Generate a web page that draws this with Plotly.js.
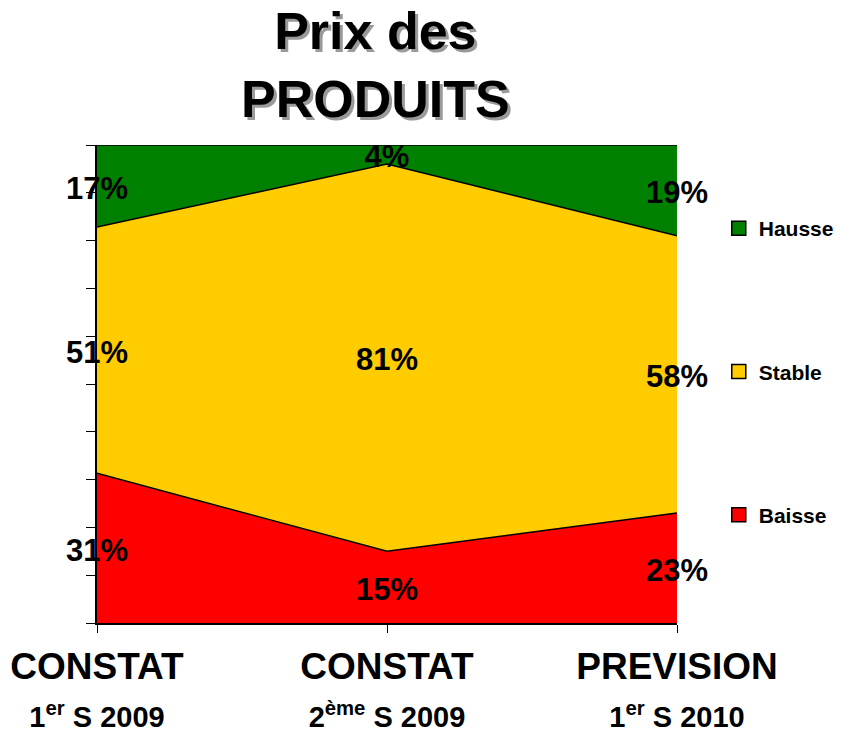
<!DOCTYPE html>
<html>
<head>
<meta charset="utf-8">
<script src="https://cdn.plot.ly/plotly-3.0.1.min.js"></script>
<style>
  body { margin: 0; background: #fff; }
  #chart { width: 841px; height: 729px; }
</style>
</head>
<body>
<div id="chart"></div>
<script>
// --- Data ---
const catLine1 = ['CONSTAT', 'CONSTAT', 'PREVISION'];
const catLine2 = ['1<sup>er</sup> S 2009', '2<sup>ème</sup> S 2009', '1<sup>er</sup> S 2010'];
const seriesNames = ['Baisse', 'Stable', 'Hausse'];
const baisse = [31, 15, 23];
const stable = [51, 81, 58];
const hausse = [17, 4, 19];
const seriesColors = ['#FF0000', '#FFCC00', '#008000'];

const xs = [0, 1, 2];
const values = [baisse, stable, hausse];
const font = 'Liberation Sans, Arial, sans-serif';

// stacked areas, normalised to 100%
const traces = values.map((vals, i) => ({
    x: xs,
    y: vals,
    type: 'scatter',
    mode: 'lines',
    stackgroup: 'one',
    groupnorm: 'percent',
    name: seriesNames[i],
    line: { color: '#000', width: 1.5 },
    fillcolor: seriesColors[i],
    showlegend: false,
    hoverinfo: 'skip'
}));

// data labels in the middle of every band
const totals = xs.map((_, j) => values.reduce((s, v) => s + v[j], 0));
values.forEach(vals => {
    traces.push({
        x: xs,
        y: xs.map((_, j) => {
            let below = 0;
            for (const v of values) { if (v === vals) break; below += v[j]; }
            return (below + vals[j] / 2) / totals[j] * 100 - 1;
        }),
        text: vals.map(v => v + '%'),
        type: 'scatter',
        mode: 'text',
        textfont: { family: font, size: 31, weight: 'bold', color: '#000' },
        cliponaxis: false,
        showlegend: false,
        hoverinfo: 'skip'
    });
});

// legend entries as square swatches, Hausse on top
[2, 1, 0].forEach(i => {
    traces.push({
        x: [null],
        y: [null],
        type: 'scatter',
        mode: 'markers',
        name: seriesNames[i],
        legendgroup: seriesNames[i],
        marker: { symbol: 'square', size: 14, color: seriesColors[i], line: { color: '#000', width: 1.5 } }
    });
});

const layout = {
    width: 841,
    height: 729,
    margin: { l: 97, r: 164, t: 145, b: 106, autoexpand: false },
    paper_bgcolor: '#fff',
    plot_bgcolor: '#fff',
    showlegend: true,
    legend: {
        x: 1.072, y: 0.868, xanchor: 'left', yanchor: 'top',
        traceorder: 'grouped',
        tracegroupgap: 113,
        itemwidth: 30,
        font: { family: font, size: 21, weight: 'bold', color: '#000' }
    },
    xaxis: {
        range: [0, 2],
        tickvals: xs,
        ticktext: xs.map(j => catLine1[j] + '<br><span style="font-size:29px">' + catLine2[j] + '</span>'),
        ticks: 'outside', ticklen: 8, tickcolor: '#000', tickwidth: 1,
        ticklabelstandoff: 2,
        showline: true, linecolor: '#000', linewidth: 1.5,
        showgrid: false, zeroline: false,
        tickfont: { family: font, size: 37, weight: 'bold', color: '#000' }
    },
    yaxis: {
        range: [0, 100],
        dtick: 10,
        ticks: 'outside', ticklen: 9, tickcolor: '#000', tickwidth: 1,
        showticklabels: false,
        showline: true, linecolor: '#000', linewidth: 1.5,
        showgrid: false, zeroline: false
    },
    annotations: [
        {
            text: 'Prix des<br>PRODUITS', xref: 'paper', yref: 'paper',
            x: 0.48, y: 1.167, xanchor: 'center', yanchor: 'middle', showarrow: false,
            xshift: 3, yshift: -3,
            font: { family: font, size: 52, weight: 'bold', color: '#9a9a9a' }
        },
        {
            text: 'Prix des<br>PRODUITS', xref: 'paper', yref: 'paper',
            x: 0.48, y: 1.167, xanchor: 'center', yanchor: 'middle', showarrow: false,
            font: { family: font, size: 52, weight: 'bold', color: '#000' }
        }
    ]
};

Plotly.newPlot('chart', traces, layout, { displayModeBar: false });
</script>
</body>
</html>
